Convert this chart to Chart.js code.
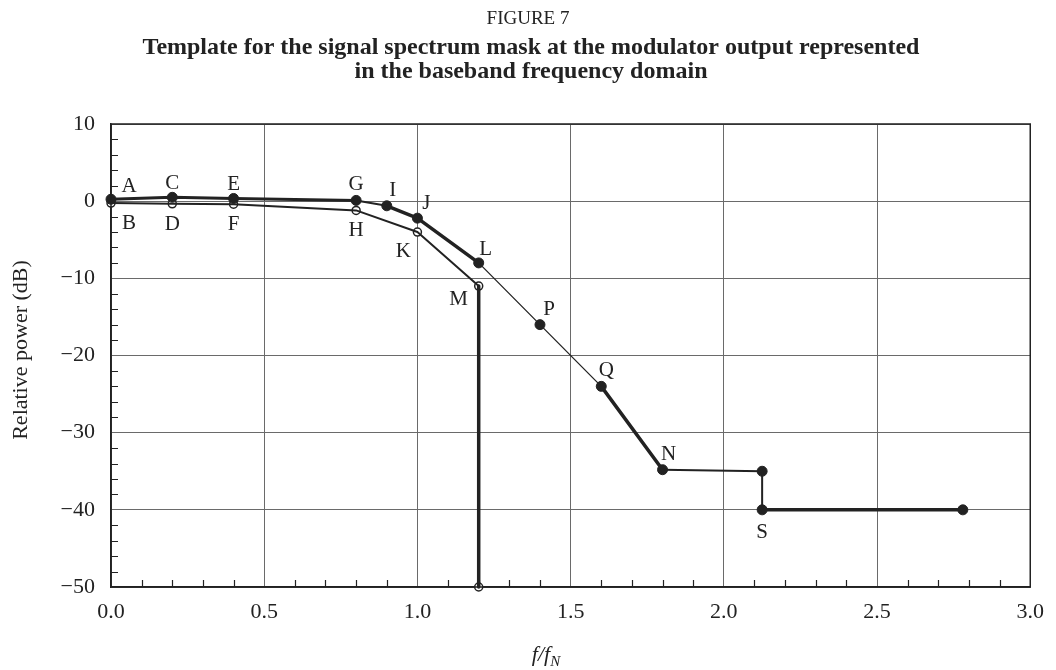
<!DOCTYPE html>
<html>
<head>
<meta charset="utf-8">
<script src="https://cdn.jsdelivr.net/npm/chart.js@4.4.1/dist/chart.umd.min.js"></script>
<style>
  html, body { margin: 0; padding: 0; background: #fff; }
  #marco { width: 1056px; height: 670px; }
</style>
</head>
<body>
<div id="marco"><canvas id="grafico" width="1056" height="670"></canvas></div>
<script>
// Upper mask: A C E G I J L P Q N (corner) S (end)
const upperFreq = [0, 0.2, 0.4, 0.8, 0.9, 1.0, 1.2, 1.4, 1.6, 1.8, 2.125, 2.125, 2.78];
const upperDb   = [0.25, 0.5, 0.35, 0.1, -0.6, -2.2, -8, -16, -24, -34.8, -35, -40, -40];
const upperNames = ['A', 'C', 'E', 'G', 'I', 'J', 'L', 'P', 'Q', 'N', '', 'S', ''];

// Lower mask: B D F H K M (foot)
const lowerFreq = [0, 0.2, 0.4, 0.8, 1.0, 1.2, 1.2];
const lowerDb   = [-0.25, -0.35, -0.4, -1.2, -4, -11, -50];
const lowerNames = ['B', 'D', 'F', 'H', 'K', 'M', ''];

const xTickLabels = ['0.0', '0.5', '1.0', '1.5', '2.0', '2.5', '3.0'];
const yTickLabels = ['\u221250', '\u221240', '\u221230', '\u221220', '\u221210', '0', '10'];

// stroke widths per stretch of each mask line (index ranges)
const upperStrokes = [
    { from: 0, to: 3, width: 3 },
    { from: 3, to: 4, width: 2 },
    { from: 4, to: 6, width: 3.5 },
    { from: 6, to: 8, width: 1.3 },
    { from: 8, to: 9, width: 3.5 },
    { from: 9, to: 11, width: 2 },
    { from: 11, to: 12, width: 3.5 }
];
const lowerStrokes = [
    { from: 0, to: 5, width: 2 },
    { from: 5, to: 6, width: 3.5 }
];

// label offsets in px from the point (cap centre)
const labelOffset = {
    A: [18, -14], B: [18, 19], C: [0, -15], D: [0, 19], E: [0, -15], F: [0, 19],
    G: [0, -17], H: [0, 19], I: [6, -17], J: [9, -16], K: [-14, 18], L: [7, -15],
    M: [-20, 12], P: [9, -17], Q: [5, -17], N: [6, -17], S: [0, 21]
};

const ink = '#222';
const serif = '"Liberation Serif", "Times New Roman", serif';

const toPoints = (fs, ds) => fs.map((f, i) => ({ x: f, y: ds[i] }));
const upperPts = toPoints(upperFreq, upperDb);
const lowerPts = toPoints(lowerFreq, lowerDb);

function strokeSets(pts, strokes) {
    return strokes.map(s => ({
        data: pts.slice(s.from, s.to + 1),
        showLine: true,
        borderColor: ink,
        borderWidth: s.width,
        borderJoinStyle: 'round',
        borderCapStyle: 'round',
        pointRadius: 0,
        clip: false
    }));
}

const datasets = [
    ...strokeSets(upperPts, upperStrokes),
    ...strokeSets(lowerPts, lowerStrokes),
    {
        data: upperPts, showLine: false, pointRadius: 5, pointBackgroundColor: ink,
        pointBorderColor: ink, pointBorderWidth: 1, clip: false
    },
    {
        data: lowerPts, showLine: false, pointRadius: 4, pointBackgroundColor: '#fff',
        pointBorderColor: ink, pointBorderWidth: 1.5, clip: false
    }
];

const extras = {
    id: 'extras',
    afterDatasetsDraw(chart) {
        const { ctx, chartArea: a, scales: { x, y } } = chart;
        ctx.save();
        // inward minor ticks
        ctx.strokeStyle = ink;
        ctx.lineWidth = 1.2;
        ctx.beginPath();
        for (let v = -48; v < 10; v += 2) {
            if (v % 10 === 0) continue;
            const py = Math.round(y.getPixelForValue(v)) + 0.5;
            ctx.moveTo(a.left, py); ctx.lineTo(a.left + 7, py);
        }
        for (let k = 1; k < 30; k++) {
            if (k % 5 === 0) continue;
            const px = Math.round(x.getPixelForValue(k / 10)) + 0.5;
            ctx.moveTo(px, a.bottom); ctx.lineTo(px, a.bottom - 7);
        }
        ctx.stroke();
        // frame
        ctx.lineWidth = 1.5;
        ctx.strokeRect(a.left, a.top, a.right - a.left, a.bottom - a.top);

        // point letters
        ctx.fillStyle = ink;
        ctx.font = '21px ' + serif;
        ctx.textAlign = 'center';
        ctx.textBaseline = 'alphabetic';
        const put = (names, pts) => names.forEach((n, i) => {
            if (!n) return;
            const [dx, dy] = labelOffset[n];
            ctx.fillText(n, x.getPixelForValue(pts[i].x) + dx, y.getPixelForValue(pts[i].y) + dy + 7);
        });
        put(upperNames, upperPts);
        put(lowerNames, lowerPts);
        ctx.restore();
    },
    afterDraw(chart) {
        const { ctx } = chart;
        ctx.save();
        ctx.fillStyle = ink;
        ctx.textAlign = 'center';
        ctx.textBaseline = 'alphabetic';
        ctx.font = '19px ' + serif;
        ctx.fillText('FIGURE 7', 528, 24);
        ctx.font = 'bold 24px ' + serif;
        ctx.fillText('Template for the signal spectrum mask at the modulator output represented', 531, 54);
        ctx.fillText('in the baseband frequency domain', 531, 78);

        // y axis title
        ctx.save();
        ctx.translate(21, 350);
        ctx.rotate(-Math.PI / 2);
        ctx.textBaseline = 'middle';
        ctx.font = '22px ' + serif;
        ctx.fillText('Relative power (dB)', 0, 0);
        ctx.restore();

        // x axis title f/fN
        ctx.textAlign = 'left';
        ctx.font = 'italic 22px ' + serif;
        const main = 'f/f';
        const w = ctx.measureText(main).width;
        ctx.font = 'italic 15px ' + serif;
        const ws = ctx.measureText('N').width;
        const x0 = 546 - (w + ws) / 2;
        ctx.font = 'italic 22px ' + serif;
        ctx.fillText(main, x0, 661);
        ctx.font = 'italic 15px ' + serif;
        ctx.fillText('N', x0 + w, 666);
        ctx.restore();
    }
};

new Chart(document.getElementById('grafico').getContext('2d'), {
    type: 'scatter',
    data: { datasets },
    options: {
        responsive: false,
        animation: false,
        layout: { padding: { top: 124, right: 19, left: 0, bottom: 0 } },
        plugins: { legend: { display: false }, tooltip: { enabled: false } },
        scales: {
            x: {
                type: 'linear', min: 0, max: 3,
                afterFit(s) { s.height = 83; },
                grid: { color: '#6a6a6a', lineWidth: 1, drawTicks: false },
                border: { color: ink, width: 1.5 },
                ticks: {
                    stepSize: 0.5, padding: 12, color: ink,
                    font: { family: serif, size: 22 },
                    callback: (v, i) => xTickLabels[i]
                }
            },
            y: {
                min: -50, max: 10,
                afterFit(s) { s.width = 111; },
                grid: { color: '#6a6a6a', lineWidth: 1, drawTicks: false },
                border: { color: ink, width: 1.5 },
                ticks: {
                    stepSize: 10, padding: 16, color: ink,
                    font: { family: serif, size: 22 },
                    callback: (v, i) => yTickLabels[i]
                }
            }
        }
    },
    plugins: [extras]
});
</script>
</body>
</html>
